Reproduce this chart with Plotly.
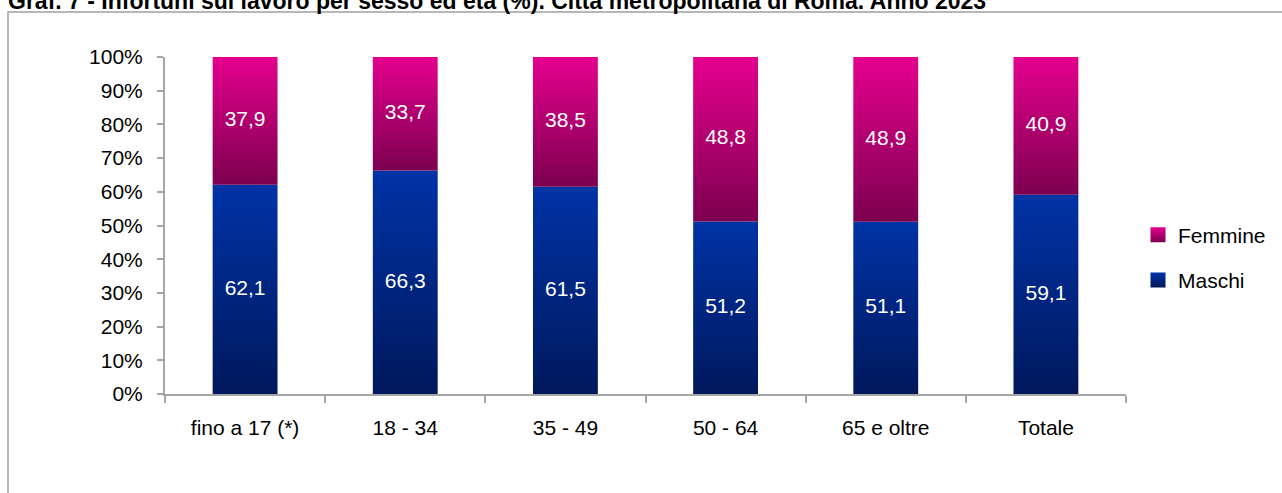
import plotly.graph_objects as go

categories = ["fino a 17 (*)", "18 - 34", "35 - 49", "50 - 64", "65 e oltre", "Totale"]
maschi = [62.1, 66.3, 61.5, 51.2, 51.1, 59.1]
femmine = [37.9, 33.7, 38.5, 48.8, 48.9, 40.9]
y_ticks = [0, 10, 20, 30, 40, 50, 60, 70, 80, 90, 100]
y_ticktext = [f"{v}%" for v in y_ticks]
title_text = "Graf. 7 - Infortuni sul lavoro per sesso ed età (%). Città metropolitana di Roma. Anno 2023"

FONT = "Liberation Sans"
BAR_W = 0.405
AXIS_COL = "#A6A6A6"
M_SCALE = [[0, "#00185C"], [1, "#0033A6"]]
F_SCALE = [[0, "#7C004F"], [1, "#E5008E"]]

def fmt(v):
    return f"{v:.1f}".replace(".", ",")

fig = go.Figure()

series = [("Maschi", maschi, M_SCALE, [0] * len(maschi)),
          ("Femmine", femmine, F_SCALE, maschi)]

for name, vals, scale, bases in series:
    for i, (v, b) in enumerate(zip(vals, bases)):
        x0, x1 = i - BAR_W / 2, i + BAR_W / 2
        fig.add_trace(go.Scatter(
            x=[x0, x1, x1, x0, x0],
            y=[b, b, b + v, b + v, b],
            mode="lines", fill="toself",
            line=dict(width=0, color=scale[1][1]),
            fillgradient=dict(type="vertical", colorscale=scale),
            showlegend=False, hoverinfo="skip",
        ))
    fig.add_trace(go.Scatter(
        x=list(range(len(vals))),
        y=[b + v / 2 for v, b in zip(vals, bases)],
        mode="text", text=[fmt(v) for v in vals],
        textfont=dict(family=FONT, size=21, color="white"),
        showlegend=False, hoverinfo="skip",
    ))

# legend entries
for name, scale, rank in [("Femmine", F_SCALE, 1), ("Maschi", M_SCALE, 2)]:
    fig.add_trace(go.Scatter(
        x=[None], y=[None], mode="markers", name=name,
        legendgroup=name, legendrank=rank,
        marker=dict(symbol="square", size=15, color=scale[1][1],
                    gradient=dict(type="vertical", color=scale[0][1])),
    ))

fig.add_annotation(
    text=f"<b>{title_text}</b>", xref="paper", yref="paper",
    x=(6 - 165) / 961, y=1 + (57 - 16) / 337, xanchor="left", yanchor="bottom",
    showarrow=False, font=dict(family=FONT, size=23, color="black"),
)

fig.add_shape(
    type="rect", xref="paper", yref="paper",
    x0=(8 - 165) / 961, x1=(1300 - 165) / 961,
    y0=-(520 - 394) / 337, y1=1 + (57 - 12) / 337,
    line=dict(color="#A0A0A0", width=1.5), fillcolor="rgba(0,0,0,0)", layer="below",
)

fig.update_layout(
    width=1282, height=493,
    margin=dict(l=165, r=156, t=57, b=99, autoexpand=False),
    paper_bgcolor="white", plot_bgcolor="white",
    font=dict(family=FONT, size=21, color="black"),
    showlegend=True,
    legend=dict(x=1 + (1138 - 1126) / 961, y=0.405, xanchor="left", yanchor="middle",
                font=dict(family=FONT, size=21, color="black"),
                tracegroupgap=15, itemwidth=30, bgcolor="rgba(0,0,0,0)"),
    xaxis=dict(range=[-0.5, len(categories) - 0.5], tickmode="array",
               tickvals=list(range(len(categories))), ticktext=categories,
               ticks="", showline=True, linecolor=AXIS_COL, linewidth=2,
               showgrid=False, zeroline=False, ticklabelstandoff=14,
               minor=dict(tickmode="array",
                          tickvals=[i - 0.5 for i in range(len(categories) + 1)],
                          ticks="outside", ticklen=7, tickcolor=AXIS_COL, tickwidth=2,
                          showgrid=False),
               fixedrange=True),
    yaxis=dict(range=[0, 100], tickmode="array", tickvals=y_ticks, ticktext=y_ticktext,
               ticks="outside", ticklen=6, tickcolor=AXIS_COL, tickwidth=2,
               showline=True, linecolor=AXIS_COL, linewidth=2,
               showgrid=False, zeroline=False, ticklabelstandoff=10,
               fixedrange=True),
)

fig.write_html(
    "out.html",
    config={"displayModeBar": False},
    post_script="document.body.style.margin='0';document.body.style.overflow='hidden';",
)
